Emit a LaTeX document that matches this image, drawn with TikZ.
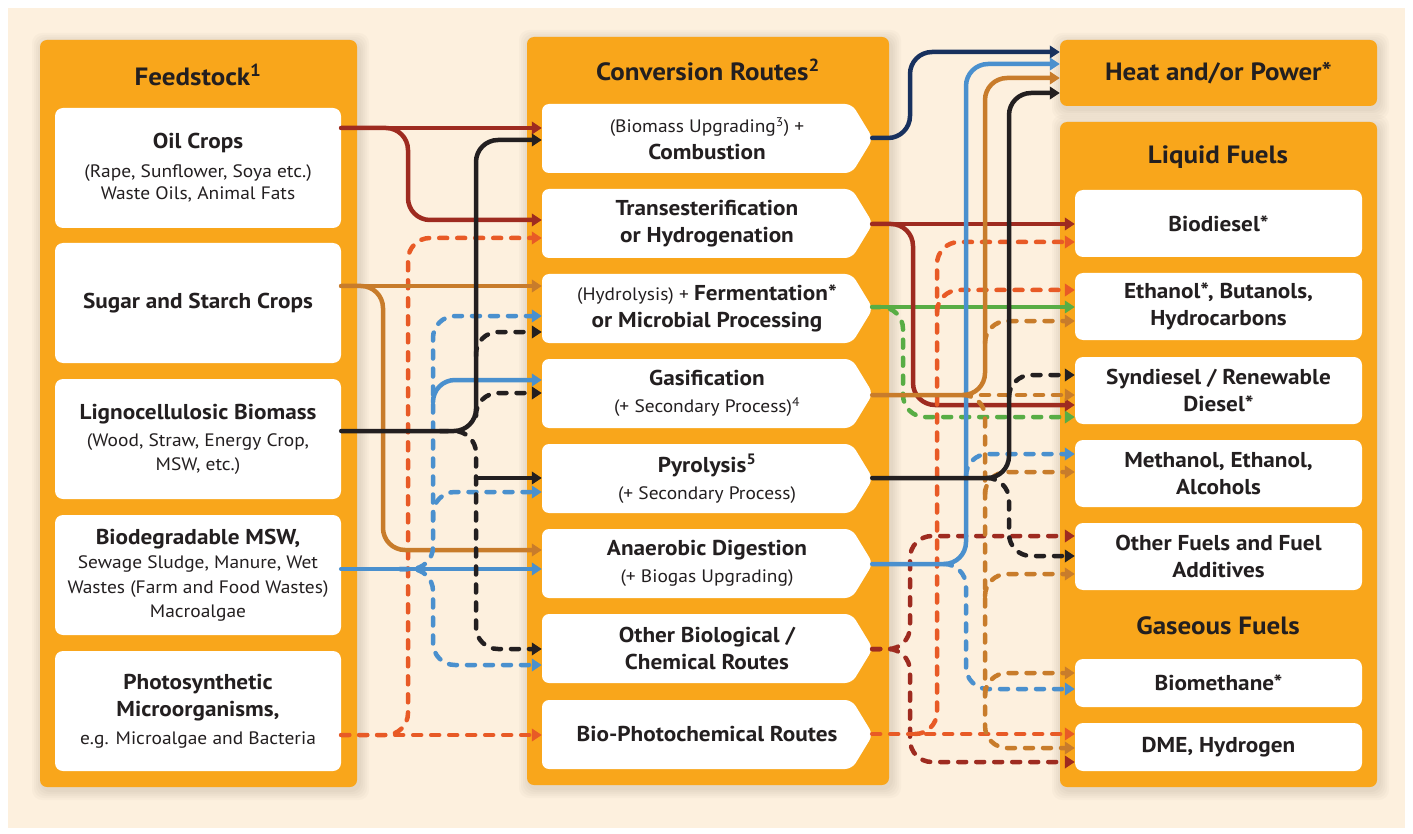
\documentclass[tikz,border=0pt]{standalone}
\usepackage{fontspec}
\setmainfont{PT Sans}[FakeStretch=1.08]
\usepackage{tikz}
\usetikzlibrary{arrows.meta}
\definecolor{cream}{HTML}{FDF0DE}
\definecolor{cpanel}{HTML}{F9A61B}
\definecolor{ctext}{HTML}{231F20}
\definecolor{cred}{HTML}{9E2B20}
\definecolor{cblack}{HTML}{231F20}
\definecolor{cbrown}{HTML}{C87C2B}
\definecolor{cblue}{HTML}{4A90CE}
\definecolor{corange}{HTML}{E85A26}
\definecolor{cgreen}{HTML}{58AD45}
\definecolor{cnavy}{HTML}{18315E}
\tikzstyle{panel}=[fill=cpanel, rounded corners=7pt]
\tikzstyle{title}=[inner sep=0pt, text=ctext, font=\fontsize{25}{30}\selectfont\bfseries]
\tikzstyle{srcbox}=[fill=white, rounded corners=8pt, minimum width=286pt, minimum height=120pt, inner sep=0pt, align=center, text=ctext, font=\fontsize{18}{24.5}\selectfont]
\tikzstyle{convbox}=[minimum width=330pt, minimum height=69pt, inner sep=0pt, align=center, text=ctext, font=\fontsize{18}{27}\selectfont]
\tikzstyle{fuelbox}=[fill=white, rounded corners=8pt, minimum width=287pt, minimum height=67pt, inner sep=0pt, align=center, text=ctext, font=\fontsize{21.5}{27.5}\selectfont\bfseries]
\tikzstyle{flow}=[line width=4.5pt, line cap=round, rounded corners=22pt, -{Triangle[length=10pt,width=12.5pt]}]
\tikzstyle{dflow}=[flow, dash pattern=on 8pt off 10pt]
\newcommand{\lead}[1]{{\fontsize{21.5}{27}\selectfont\bfseries #1}}

\begin{document}
\begin{tikzpicture}[x=1pt, y=-1pt]
  \useasboundingbox (0,0) rectangle (1413,834);
  \fill[white] (0,0) rectangle (1413,834);
  \fill[cream] (8,8) rectangle (1405,828);

  % panels with soft shadow
  \foreach \xa/\ya/\xb/\yb in {40/40/357/787, 527/37/889/785, 1060/40/1377/106, 1060/122/1377/787} {
    \foreach \s in {2,4,6,8,10}
      \fill[black!70!brown, opacity=0.025, rounded corners=10pt] (\xa-\s+2,\ya-\s+3) rectangle (\xb+\s+2,\yb+\s+3);
    \fill[panel] (\xa,\ya) rectangle (\xb,\yb);
  }

  \node [title] (tfeed) at (198,75) {Feedstock\textsuperscript{1}};
  \node [title] (tconv) at (708,70) {Conversion Routes\textsuperscript{2}};
  \node [title, minimum width=317pt, minimum height=66pt] (heat) at (1218.5,73) {Heat and/or Power*};
  \node [title] (tliquid) at (1218,157) {Liquid Fuels};
  \node [title] (tgas) at (1218,626) {Gaseous Fuels};

  % feedstock
  \node [srcbox] (oil) at (198,168) {\lead{Oil Crops}\\[4pt] (Rape, Sunflower, Soya etc.)\\[-2pt] Waste Oils, Animal Fats};
  \node [srcbox] (sugar) at (198,303) {\lead{Sugar and Starch Crops}};
  \node [srcbox] (ligno) at (198,439) {\lead{Lignocellulosic Biomass}\\[3pt] (Wood, Straw, Energy Crop,\\[-1pt] MSW, etc.)};
  \node [srcbox] (msw) at (198,575) {\lead{Biodegradable MSW,}\\ Sewage Sludge, Manure, Wet\\ Wastes (Farm and Food Wastes)\\ Macroalgae};
  \node [srcbox] (photo) at (198,711) {\lead{Photosynthetic}\\[3pt] \lead{Microorganisms,}\\[3pt] e.g. Microalgae and Bacteria};

  % conversion routes
  \foreach \y in {138.5,223.5,308.5,393.5,478.5,563.5,648.5,734.5}
    \fill[white, rounded corners=7pt] (542,\y-34.5) -- (852,\y-34.5) -- (873,\y) -- (852,\y+34.5) -- (542,\y+34.5) -- cycle;
  \node [convbox] (comb) at (707,138.5) {(Biomass Upgrading\textsuperscript{3}) +\\ \lead{Combustion}};
  \node [convbox] (trans) at (707,223.5) {\lead{Transesterification}\\ \lead{or Hydrogenation}};
  \node [convbox] (ferm) at (707,308.5) {(Hydrolysis) + \lead{Fermentation*}\\ \lead{or Microbial Processing}};
  \node [convbox] (gas) at (707,393.5) {\lead{Gasification}\\ (+ Secondary Process)\textsuperscript{4}};
  \node [convbox] (pyro) at (707,478.5) {\lead{Pyrolysis\textsuperscript{5}}\\ (+ Secondary Process)};
  \node [convbox] (anaer) at (707,563.5) {\lead{Anaerobic Digestion}\\ (+ Biogas Upgrading)};
  \node [convbox] (other) at (707,648.5) {\lead{Other Biological /}\\ \lead{Chemical Routes}};
  \node [convbox] (biophoto) at (707,734.5) {\lead{Bio-Photochemical Routes}};

  % fuels
  \node [fuelbox] (biodiesel) at (1218.5,223.5) {Biodiesel*};
  \node [fuelbox] (ethanol) at (1218.5,306.5) {Ethanol*, Butanols,\\ Hydrocarbons};
  \node [fuelbox] (syn) at (1218.5,390.5) {Syndiesel / Renewable\\ Diesel*};
  \node [fuelbox] (methanol) at (1218.5,473.5) {Methanol, Ethanol,\\ Alcohols};
  \node [fuelbox] (otherf) at (1218.5,556.5) {Other Fuels and Fuel\\ Additives};
  \node [fuelbox, minimum height=48pt] (biomethane) at (1218.5,683) {Biomethane*};
  \node [fuelbox, minimum height=48pt] (dme) at (1218.5,747) {DME, Hydrogen};

  % feedstock to conversion
  \draw [dflow, corange] (photo.east |- 0,735) -| (408,238) -- (trans.west |- 0,238);
  \draw [dflow, corange] (photo.east |- 0,735) -- (biophoto.west |- 0,735);
  \draw [flow, cred] (oil.east |- 0,128) -| (408,220) -- (trans.west |- 0,220);
  \draw [flow, cred] (oil.east |- 0,128) -- (comb.west |- 0,128);
  \draw [flow, cbrown] (sugar.east |- 0,286) -| (383,550) -- (anaer.west |- 0,550);
  \draw [flow, cbrown] (sugar.east |- 0,286) -- (ferm.west |- 0,286);
  \draw [dflow, cblue] (400,569) -| (433,316) -- (ferm.west |- 0,316);
  \draw [dflow, cblue] (433,520) |- (pyro.west |- 0,492);
  \draw [dflow, cblue] (400,569) -| (433,665) -- (other.west |- 0,665);
  \draw [flow, cblue] (433,402) |- (gas.west |- 0,380);
  \draw [flow, cblue] (msw.east |- 0,569) -- (anaer.west |- 0,569);
  \draw [dflow, cblack] (440,431) -| (476,649) -- (other.west |- 0,649);
  \draw [dflow, cblack] (476,356) |- (ferm.west |- 0,332);
  \draw [dflow, cblack] (476,416) |- (gas.west |- 0,393);
  \draw [flow, cblack] (ligno.east |- 0,431) -| (476,140) -- (comb.west |- 0,140);
  \draw [flow, cblack] (476,478) -- (pyro.west |- 0,478);

  % conversion to products
  \draw [dflow, cred] (other.east |- 0,649) -| (910,536) -- (otherf.west |- 0,536);
  \draw [dflow, cred] (other.east |- 0,649) -| (910,762) -- (dme.west |- 0,762);
  \draw [dflow, cgreen] (ferm.east |- 0,307) -| (903,417) -- (syn.west |- 0,417);
  \draw [flow, cgreen] (ferm.east |- 0,307) -- (ethanol.west |- 0,307);
  \draw [flow, cred] (trans.east |- 0,224) -| (913,405) -- (syn.west |- 0,405);
  \draw [flow, cred] (trans.east |- 0,224) -- (biodiesel.west |- 0,224);
  \draw [dflow, corange] (915,734) -| (937,242) -- (biodiesel.west |- 0,242);
  \draw [dflow, corange] (937,312) |- (ethanol.west |- 0,290);
  \draw [dflow, corange] (biophoto.east |- 0,734) -- (dme.west |- 0,734);
  \draw [flow, cnavy] (comb.east |- 0,138) -| (910,52) -- (heat.west |- 0,52);
  \draw [dflow, cblue] (944,564) -| (966,689) -- (biomethane.west |- 0,689);
  \draw [dflow, cblue] (966,476) |- (methanol.west |- 0,454);
  \draw [flow, cblue] (anaer.east |- 0,564) -| (966,64) -- (heat.west |- 0,64);
  \draw [dflow, cbrown] (963,395) -| (985,748) -- (dme.west |- 0,748);
  \draw [dflow, cbrown] (963,395) -- (syn.west |- 0,395);
  \draw [dflow, cbrown] (985,343) |- (ethanol.west |- 0,321);
  \draw [dflow, cbrown] (985,494) |- (methanol.west |- 0,472);
  \draw [dflow, cbrown] (985,596) |- (otherf.west |- 0,574);
  \draw [dflow, cbrown] (985,695) |- (biomethane.west |- 0,673);
  \draw [flow, cbrown] (gas.east |- 0,395) -| (985,78) -- (heat.west |- 0,78);
  \draw [dflow, cblack] (987,478) -| (1009,556) -- (otherf.west |- 0,556);
  \draw [dflow, cblack] (1009,397) |- (syn.west |- 0,375);
  \draw [flow, cblack] (pyro.east |- 0,478) -| (1009,93) -- (heat.west |- 0,93);
\end{tikzpicture}
\end{document}
